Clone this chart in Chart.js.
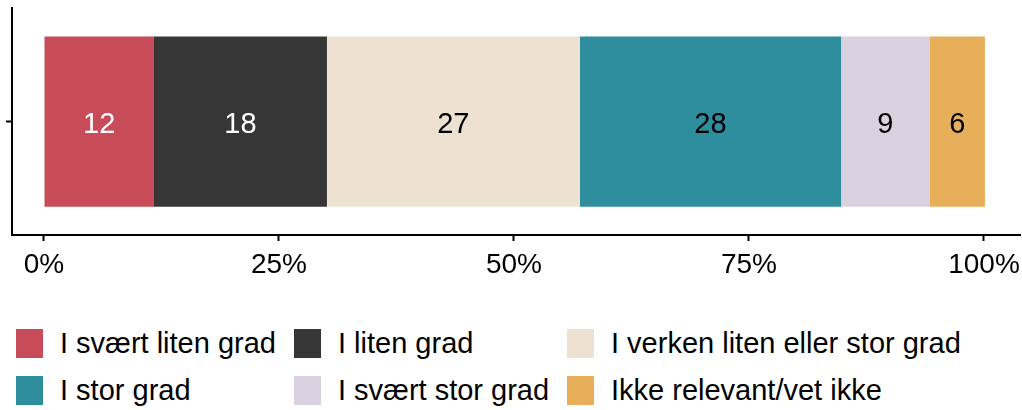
<!DOCTYPE html>
<html>
<head>
<meta charset="utf-8">
<script src="https://cdn.jsdelivr.net/npm/chart.js@4/dist/chart.umd.min.js"></script>
<style>
  body { margin: 0; background: #fff; font-family: "Liberation Sans", Arial, sans-serif; }
  #wrap { width: 1022px; height: 290px; position: relative; }
  #legend { position: absolute; left: 0; top: 312px; width: 1022px; }
  .item { position: absolute; display: flex; align-items: center; font-size: 29px; color: #000; white-space: nowrap; }
  .box { width: 27px; height: 29px; margin-right: 17px; }
</style>
</head>
<body>
<div id="wrap"><canvas id="chart" width="1022" height="290"></canvas></div>
<div id="legend"></div>
<script>
const categories = [""];
const seriesNames = [
  "I svært liten grad",
  "I liten grad",
  "I verken liten eller stor grad",
  "I stor grad",
  "I svært stor grad",
  "Ikke relevant/vet ikke",
];
const seriesValues = [11.7, 18.4, 26.9, 27.8, 9.4, 5.9];
const seriesColors = ["#C84B5A", "#363636", "#EDE1D1", "#2E8E9E", "#D9D1DF", "#E8AF5B"];
const labelColors = ["#fff", "#fff", "#000", "#000", "#000", "#000"];
const xTicks = [0, 25, 50, 75, 100];

const font = "Liberation Sans, Arial, sans-serif";

const barLabels = {
  id: "barLabels",
  afterDatasetsDraw(chart) {
    const ctx = chart.ctx;
    ctx.save();
    ctx.font = "29px " + font;
    ctx.textAlign = "center";
    ctx.textBaseline = "middle";
    chart.data.datasets.forEach((ds, i) => {
      chart.getDatasetMeta(i).data.forEach((bar, j) => {
        const c = bar.getCenterPoint();
        ctx.fillStyle = labelColors[i];
        ctx.fillText(Math.round(ds.data[j]), c.x, c.y + 3);
      });
    });
    ctx.restore();
  },
};

new Chart(document.getElementById("chart"), {
  type: "bar",
  data: {
    labels: categories,
    datasets: seriesNames.map((name, i) => ({
      label: name,
      data: [seriesValues[i]],
      backgroundColor: seriesColors[i],
      barPercentage: 1,
      categoryPercentage: 0.75,
    })),
  },
  options: {
    indexAxis: "y",
    responsive: false,
    animation: false,
    layout: { padding: { top: 8, right: 2, left: 0, bottom: 0 } },
    plugins: { legend: { display: false }, tooltip: { enabled: false } },
    scales: {
      x: {
        stacked: true,
        min: -3.404,
        max: 103.83,
        afterBuildTicks: (s) => { s.ticks = xTicks.map((v) => ({ value: v })); },
        afterFit: (s) => { s.height = 55; s.paddingLeft = 0; s.paddingRight = 0; },
        ticks: {
          callback: (v) => v + "%",
          color: "#000",
          font: { size: 28, family: font },
          padding: 7,
          maxRotation: 0,
          autoSkip: false,
        },
        grid: { drawOnChartArea: false, drawTicks: true, tickLength: 6, tickWidth: 2, color: "#000" },
        border: { display: true, color: "#000", width: 2 },
      },
      y: {
        stacked: true,
        afterFit: (s) => { s.width = 12; s.paddingTop = 0; s.paddingBottom = 0; },
        ticks: { display: true, padding: 0, font: { size: 1 } },
        grid: { offset: false, drawOnChartArea: false, drawTicks: true, tickLength: 6, tickWidth: 2, color: "#000" },
        border: { display: true, color: "#000", width: 2 },
      },
    },
  },
  plugins: [barLabels],
});

const legend = document.getElementById("legend");
const colX = [16, 294, 567];
const rowY = [15, 62];
seriesNames.forEach((name, i) => {
  const el = document.createElement("div");
  el.className = "item";
  el.style.left = colX[i % 3] + "px";
  el.style.top = rowY[Math.floor(i / 3)] + "px";
  el.innerHTML = '<div class="box" style="background:' + seriesColors[i] + '"></div><span>' + name + "</span>";
  legend.appendChild(el);
});
</script>
</body>
</html>
